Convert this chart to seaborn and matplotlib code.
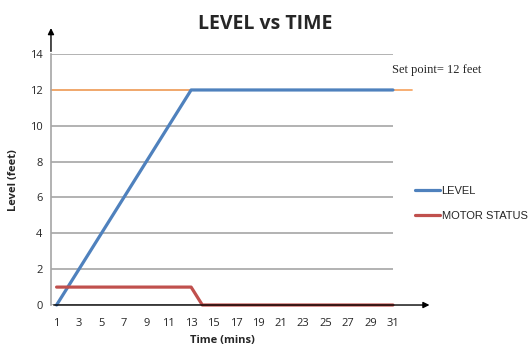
import numpy as np
import pandas as pd
import seaborn as sns
import matplotlib.pyplot as plt

# data
time_mins = list(range(1, 32))
level_feet = [0, 1, 2, 3, 4, 5, 6, 7, 8, 9, 10, 11, 12] + [12] * 18
motor_status = [1] * 13 + [0] * 18
set_point = 12
y_ticks = [0, 2, 4, 6, 8, 10, 12, 14]

df = pd.DataFrame({'time': time_mins * 2,
                   'value': level_feet + motor_status,
                   'series': ['LEVEL'] * 31 + ['MOTOR STATUS'] * 31})

sns.set_style('white')
plt.rcParams['font.family'] = ['Open Sans', 'DejaVu Sans']

fig = plt.figure(figsize=(5.31, 3.47), dpi=100)
ax = fig.add_axes([0.096, 0.121, 0.644, 0.723])

# set point line (goes a bit past the plot area)
ax.plot([0.5, 32.7], [set_point, set_point], color='#F7A868', lw=1.3,
        zorder=2, clip_on=False)

sns.lineplot(data=df, x='time', y='value', hue='series',
             palette={'LEVEL': '#4F81BD', 'MOTOR STATUS': '#C0504D'},
             linewidth=2.3, ax=ax, zorder=3, legend=True)
for ln in ax.lines:
    ln.set_clip_on(False)

ax.set_xlim(0.5, 31)
ax.set_ylim(0, 14)
ax.set_yticks(y_ticks)
ax.set_yticklabels([str(v) for v in y_ticks], fontsize=8)
ax.set_xticks(time_mins)
ax.set_xticklabels([str(t) if t % 2 == 1 else '' for t in time_mins], fontsize=8)
ax.yaxis.grid(True, color='#A6A6A6', lw=1.2)
ax.set_axisbelow(True)
ax.tick_params(axis='x', length=3, color='#808080', pad=6)
ax.tick_params(axis='y', length=3, color='#808080', pad=3)

for s in ['top', 'right']:
    ax.spines[s].set_visible(False)
ax.spines['left'].set_color('#A6A6A6')
ax.spines['left'].set_linewidth(1.2)
ax.spines['bottom'].set_visible(False)

# axis arrows
ax.annotate('', xy=(1.115, 0), xytext=(0, 0), xycoords='axes fraction',
            arrowprops=dict(arrowstyle='-|>', color='black', lw=1, mutation_scale=9))
ax.annotate('', xy=(0, 1.115), xytext=(0, 1.0), xycoords='axes fraction',
            arrowprops=dict(arrowstyle='-|>', color='black', lw=1, mutation_scale=9))

ax.set_xlabel('Time (mins)', fontsize=8, fontweight='bold', labelpad=5)
ax.set_ylabel('Level (feet)', fontsize=8, fontweight='bold', labelpad=8)
fig.text(0.5, 0.93, 'LEVEL vs TIME', ha='center', va='center',
         fontsize=14, fontweight='bold')
fig.text(0.738, 0.797, 'Set point= 12 feet', fontsize=9,
         family='Liberation Serif', ha='left', va='center')

leg = ax.legend(loc='center left', bbox_to_anchor=(1.035, 0.405), frameon=False,
                handlelength=2.3, handletextpad=0.1, labelspacing=1.3,
                prop={'family': ['Liberation Sans Narrow', 'Liberation Sans'], 'size': 8})
for h in leg.get_lines():
    h.set_linewidth(2.3)

fig.savefig('out.png', dpi=100)
